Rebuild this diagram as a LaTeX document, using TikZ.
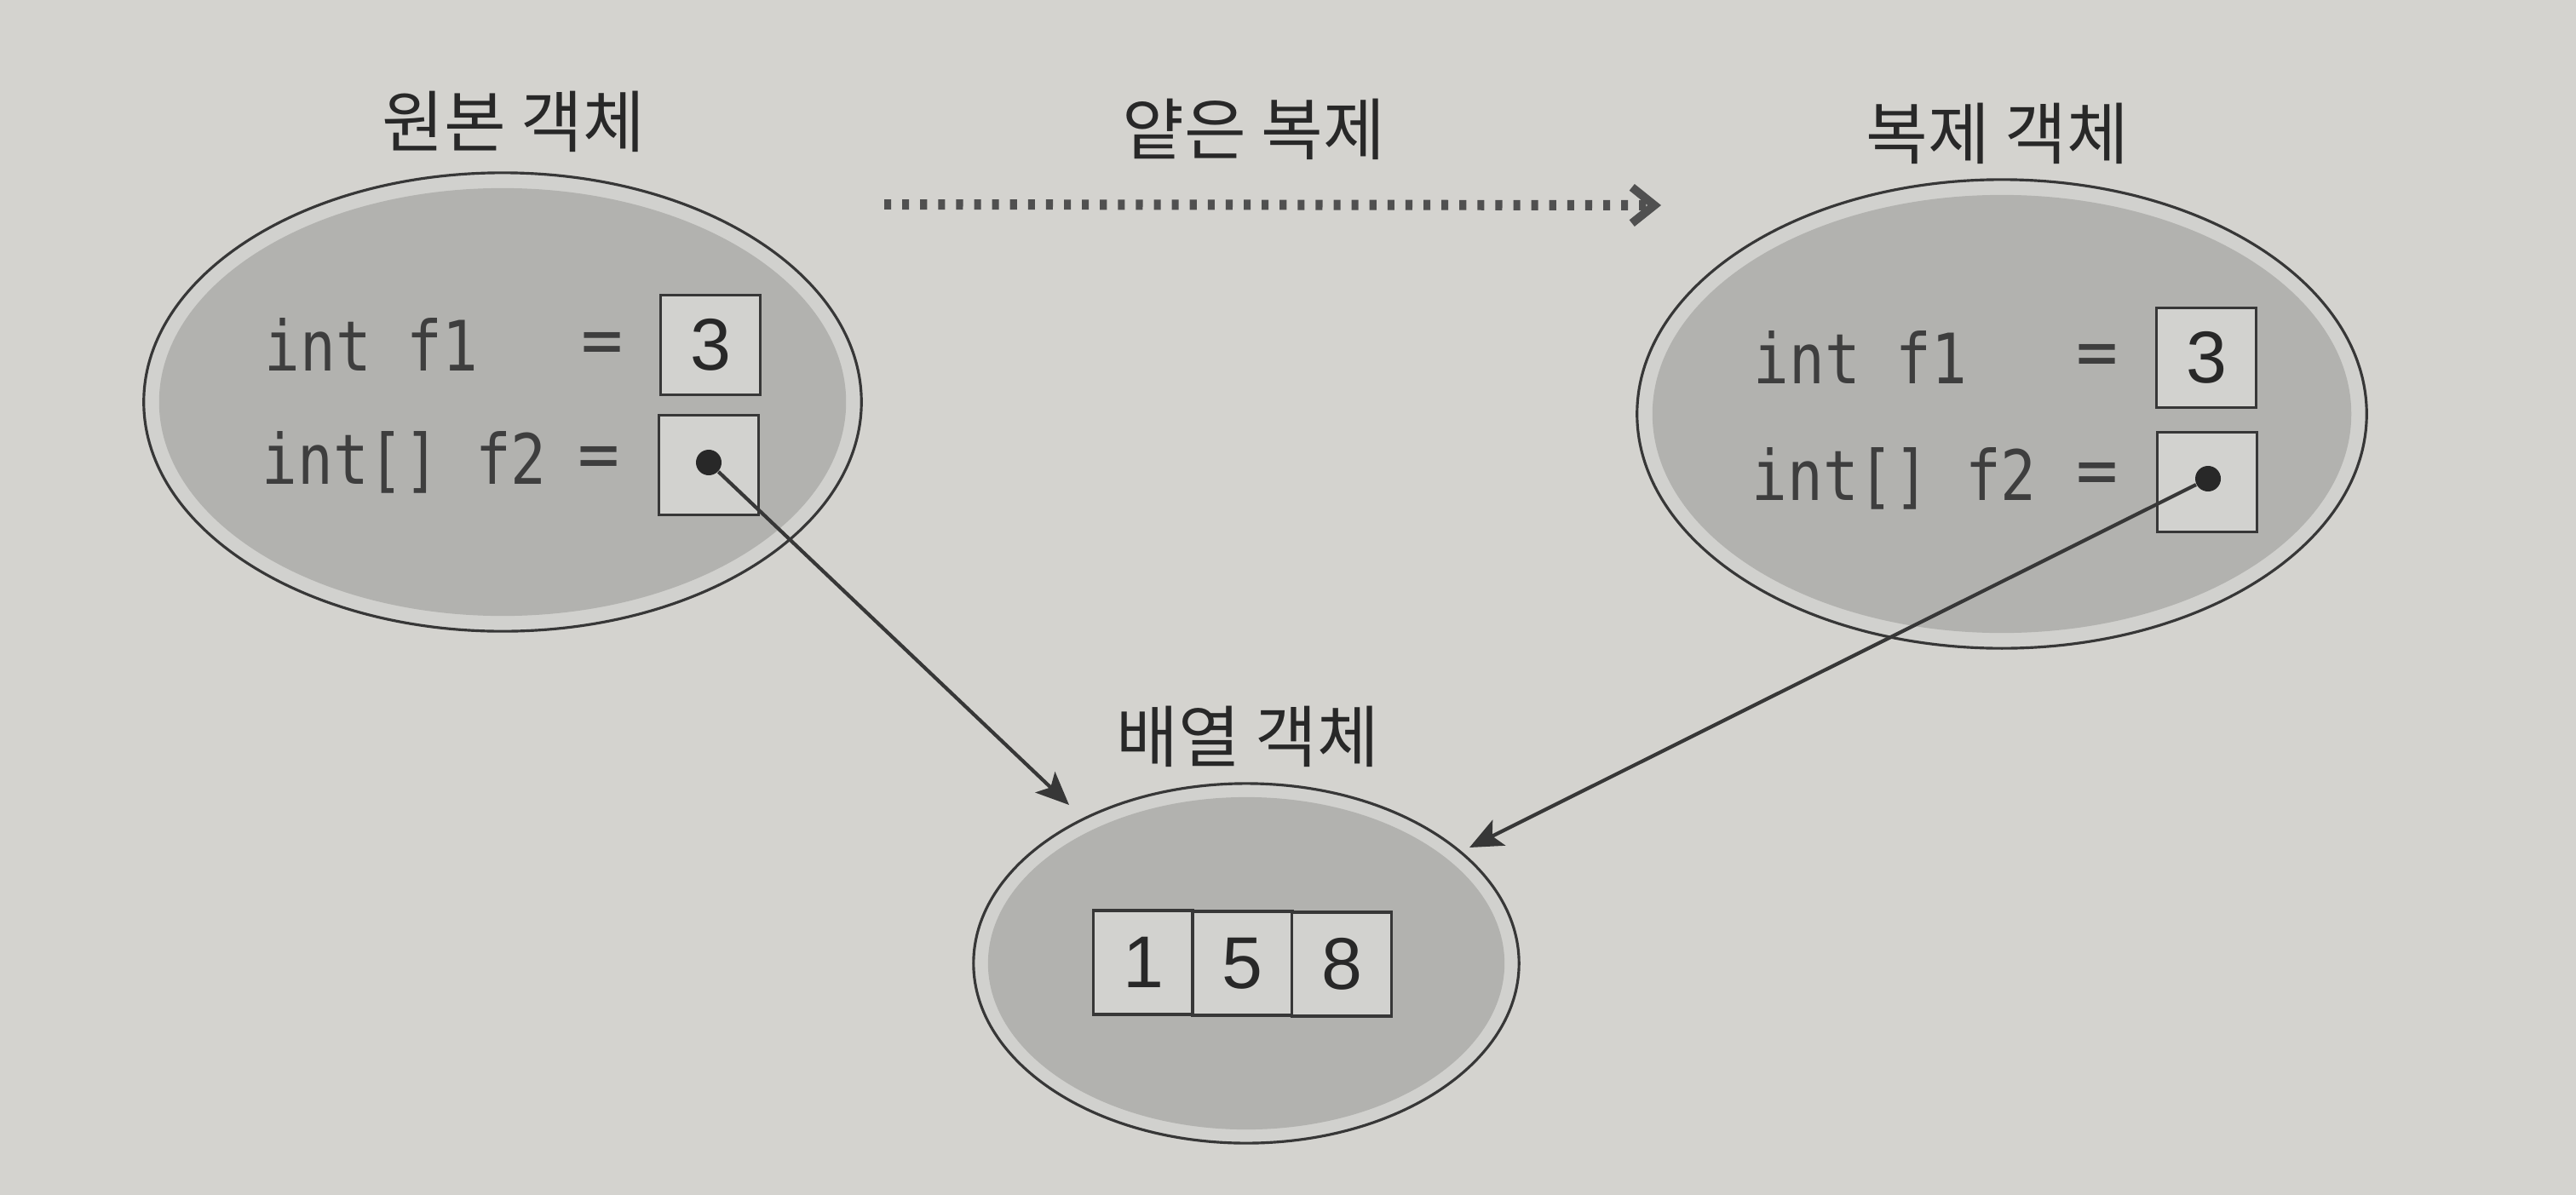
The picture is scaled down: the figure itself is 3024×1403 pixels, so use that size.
\documentclass[tikz,border=0pt]{standalone}
\usepackage{graphicx}
\usepackage{fontspec}
\setmonofont{DejaVu Sans Mono}
\newfontfamily\krfont{Noto Sans CJK KR}
\newfontfamily\digitfont{Liberation Sans}
\usetikzlibrary{shapes.geometric,arrows.meta}
\definecolor{paper}{RGB}{212,211,207}
\definecolor{ring}{RGB}{209,209,206}
\definecolor{objfill}{RGB}{178,178,175}
\definecolor{cellfill}{RGB}{210,210,207}
\definecolor{edge}{RGB}{55,55,55}
\definecolor{ink}{RGB}{40,40,40}
\definecolor{codeink}{RGB}{62,62,62}
\definecolor{dotc}{RGB}{80,80,80}
\begin{document}
\begin{tikzpicture}[x=0.01cm,y=-0.01cm,
  title/.style={font=\krfont\fontsize{22.5}{27}\selectfont, text=ink, inner sep=0pt},
  objring/.style={ellipse, draw=edge, line width=0.9pt, fill=ring, inner sep=0pt},
  cell/.style={rectangle, draw=edge, line width=1pt, fill=cellfill, inner sep=0pt,
    minimum width=1.17cm, minimum height=1.17cm,
    font=\digitfont\fontsize{24.5}{28}\selectfont, text=ink},
  code/.style={anchor=base west, inner sep=0pt, text=codeink, font=\ttfamily\fontsize{23.2}{27}\selectfont},
  eqsign/.style={inner sep=0pt, text=codeink, font=\ttfamily\fontsize{23.2}{27}\selectfont},
  ptr/.style={circle, fill=ink, inner sep=0pt, minimum size=0.3cm},
  link/.style={draw=edge, line width=1.2pt, -{Stealth[length=11pt,width=9.5pt,inset=2.5pt]}},
  copyarrow/.style={draw=dotc, line width=3.4pt, dash pattern=on 2.3pt off 3.7pt,
    -{Straight Barb[length=7.5pt,width=12pt,line width=2.8pt]}}
]
\fill[paper] (0,0) rectangle (3024,1403);
\useasboundingbox (0,0) rectangle (3024,1403);

% object ellipses
\node[objring, minimum width=8.42cm, minimum height=5.38cm] (orig) at (590,472) {};
\fill[objfill] (orig.center) ellipse [x radius=4.03cm, y radius=2.51cm];
\node[objring, minimum width=8.56cm, minimum height=5.50cm] (clone) at (2350,486) {};
\fill[objfill] (clone.center) ellipse [x radius=4.10cm, y radius=2.57cm];
\node[objring, minimum width=6.40cm, minimum height=4.22cm] (arr) at (1463,1131) {};
\fill[objfill] (arr.center) ellipse [x radius=3.03cm, y radius=1.95cm];

% titles
\node[title] (torig) at (603,143) {원본 객체};
\node[title] (tcopy) at (1472,152) {얕은 복제};
\node[title] (tclone) at (2345,157) {복제 객체};
\node[title] (tarr) at (1465,865) {배열 객체};

% original object fields
\node[code] (l1) at (310,435) {\scalebox{0.85}[1]{int f1}};
\node[code] (l2) at (307,568) {\scalebox{0.85}[1]{int[] f2}};
\node[eqsign] (le1) at (707,409) {=};
\node[eqsign] (le2) at (703,543) {=};
\node[cell] (lv1) at (834,405) {3};
\node[cell] (lv2) at (832,546) {};
\node[ptr] (ldot) at (832,543) {};

% cloned object fields
\node[code] (r1) at (2058,450) {\scalebox{0.85}[1]{int f1}};
\node[code] (r2) at (2056,587) {\scalebox{0.85}[1]{int[] f2}};
\node[eqsign] (re1) at (2462,423) {=};
\node[eqsign] (re2) at (2462,562) {=};
\node[cell] (rv1) at (2590,420) {3};
\node[cell] (rv2) at (2591,566) {};
\node[ptr] (rdot) at (2592,562) {};

% array cells
\node[cell, minimum height=1.22cm] (a1) at (1342,1130) {1};
\node[cell, minimum height=1.22cm] (a2) at (1458.5,1131) {5};
\node[cell, minimum height=1.22cm] (a3) at (1575,1132) {8};

% references
\coordinate (ltip) at (1255,945);
\coordinate (rtip) at (1725,995);
\draw[link] (ldot) -- (ltip);
\draw[link] (rdot) -- (rtip);

% shallow copy arrow
\coordinate (cs) at (1038,240);
\coordinate (ce) at (1950,241);
\draw[copyarrow] (cs) -- (ce);
\end{tikzpicture}
\end{document}
